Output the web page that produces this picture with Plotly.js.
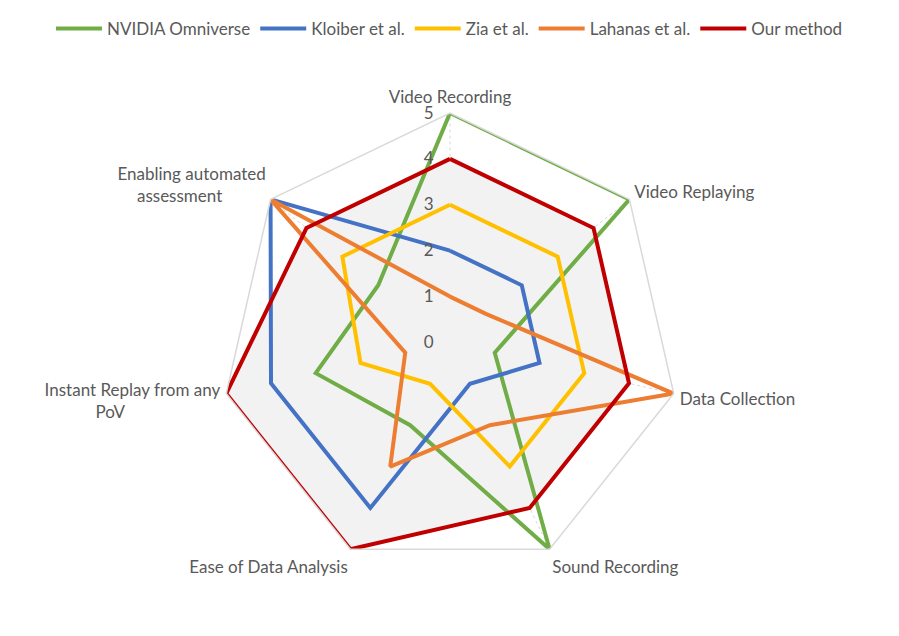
<!DOCTYPE html>
<html>
<head>
<meta charset="utf-8">
<script src="https://cdn.plot.ly/plotly-3.0.1.min.js"></script>
<style>html,body{margin:0;padding:0;background:#fff;}#chart{width:899px;height:636px;}</style>
</head>
<body>
<div id="chart"></div>
<script>
const NB = "\u00A0";
const categories = ["Video Recording", "Video Replaying", "Data Collection", "Sound Recording",
  "Ease of Data Analysis", "Instant Replay from any<br>PoV" + NB.repeat(22),
  "Enabling automated<br>assessment" + NB.repeat(10)];
const seriesNames = ["NVIDIA Omniverse", "Kloiber et al.", "Zia et al.", "Lahanas et al.", "Our method"];
const nvidia  = [5, 5, 1, 5, 2, 3, 2];
const kloiber = [2, 2, 2, 1, 4, 4, 5];
const zia     = [3, 3, 3, 3, 1, 2, 3];
const lahanas = [1, 1, 5, 2, 3, 1, 5];
const ours    = [4, 4, 4, 4, 5, 5, 4];
const radialTicks = [0, 1, 2, 3, 4, 5];

const colors = ["#70AD47", "#4472C4", "#FFC000", "#ED7D31", "#C00000"];
const allSeries = [nvidia, kloiber, zia, lahanas, ours];

function closed(a) { return a.concat([a[0]]); }
const thetaClosed = closed(categories);

const traces = [];
// gray fill under the "Our method" polygon
traces.push({
  type: "scatterpolar", r: closed(ours), theta: thetaClosed,
  mode: "none", fill: "toself", fillcolor: "#f2f2f2",
  showlegend: false, hoverinfo: "skip"
});
allSeries.forEach((s, i) => {
  traces.push({
    type: "scatterpolar", r: closed(s), theta: thetaClosed, name: seriesNames[i],
    mode: "lines", line: {color: colors[i], width: 4, shape: "linear"}
  });
});

const font = {family: "Lato, 'Open Sans', sans-serif", size: 17, color: "#595959"};

const W = 899, H = 636, ML = 20, MR = 20, MT = 112, MB = 64;
const PW = W - ML - MR, PH = H - MT - MB;

const layout = {
  width: W, height: H,
  margin: {l: ML, r: MR, t: MT, b: MB},
  paper_bgcolor: "#ffffff",
  font: font,
  showlegend: true,
  legend: {orientation: "h", x: 0.5, xanchor: "center", y: (H - MB - 29) / PH, yanchor: "middle",
    font: font, itemwidth: 46, tracegroupgap: 0},
  polar: {
    bgcolor: "rgba(0,0,0,0)",
    gridshape: "linear",
    domain: {x: [(220 - ML) / PW, (680 - ML) / PW], y: [0, 1]},
    angularaxis: {
      type: "category", categoryorder: "array", categoryarray: categories,
      direction: "clockwise", rotation: 90,
      showline: true, linecolor: "#d9d9d9", linewidth: 1.5,
      gridcolor: "#d9d9d9", gridwidth: 1, griddash: "dot",
      ticks: "outside", ticklen: 2, tickcolor: "rgba(0,0,0,0)", tickfont: font
    },
    radialaxis: {
      range: [0, 5], angle: 90, side: "counterclockwise",
      tickvals: radialTicks, ticktext: radialTicks.map(String),
      showline: false, ticks: "outside", ticklen: 10, tickcolor: "rgba(0,0,0,0)", tickangle: 90,
      gridcolor: "#d9d9d9", gridwidth: 1, griddash: "dot",
      tickfont: font
    }
  }
};

Plotly.newPlot("chart", traces, layout, {displayModeBar: false, staticPlot: true});
</script>
</body>
</html>
